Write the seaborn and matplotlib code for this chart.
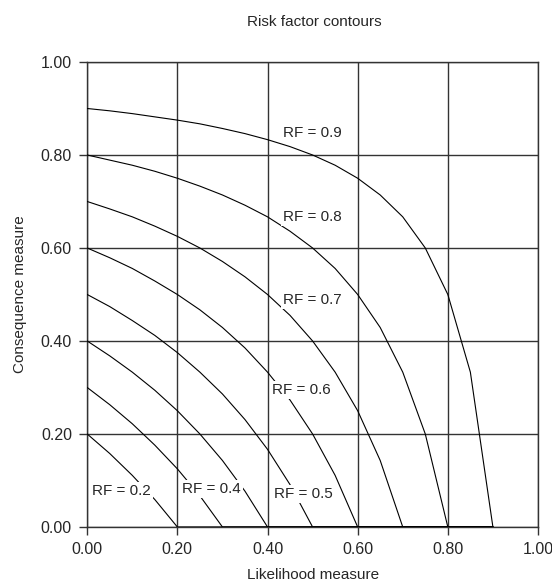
import matplotlib
matplotlib.use("Agg")
import matplotlib.pyplot as plt
import seaborn as sns
import pandas as pd

# Likelihood grid (x) shared by all contours
likelihood = [0.00, 0.05, 0.10, 0.15, 0.20, 0.25, 0.30, 0.35, 0.40, 0.45,
              0.50, 0.55, 0.60, 0.65, 0.70, 0.75, 0.80, 0.85, 0.90]

# Consequence values
rf_02 = [0.20, 0.158, 0.111, 0.059, 0.0, 0, 0, 0, 0, 0, 0, 0, 0, 0, 0, 0, 0, 0, 0]
rf_03 = [0.30, 0.263, 0.222, 0.176, 0.125, 0.067, 0.0, 0, 0, 0, 0, 0, 0, 0, 0, 0, 0, 0, 0]
rf_04 = [0.40, 0.368, 0.333, 0.294, 0.25, 0.20, 0.143, 0.077, 0.0, 0, 0, 0, 0, 0, 0, 0, 0, 0, 0]
rf_05 = [0.50, 0.474, 0.444, 0.412, 0.375, 0.333, 0.286, 0.231, 0.167, 0.091, 0.0,
         0, 0, 0, 0, 0, 0, 0, 0]
rf_06 = [0.60, 0.579, 0.556, 0.529, 0.50, 0.467, 0.429, 0.385, 0.333, 0.273, 0.20,
         0.111, 0.0, 0, 0, 0, 0, 0, 0]
rf_07 = [0.70, 0.684, 0.667, 0.647, 0.625, 0.60, 0.571, 0.538, 0.50, 0.455, 0.40,
         0.333, 0.25, 0.143, 0.0, 0, 0, 0, 0]
rf_08 = [0.80, 0.789, 0.778, 0.765, 0.75, 0.733, 0.714, 0.692, 0.667, 0.636, 0.60,
         0.556, 0.50, 0.429, 0.333, 0.20, 0.0, 0, 0]
rf_09 = [0.90, 0.895, 0.889, 0.882, 0.875, 0.867, 0.857, 0.846, 0.833, 0.818, 0.80,
         0.778, 0.75, 0.714, 0.667, 0.60, 0.50, 0.333, 0.0]

rf_levels = ["0.2", "0.3", "0.4", "0.5", "0.6", "0.7", "0.8", "0.9"]
rf_series = [rf_02, rf_03, rf_04, rf_05, rf_06, rf_07, rf_08, rf_09]

# label positions (likelihood, consequence) for the labelled contours
label_text = ["RF = 0.2", "RF = 0.4", "RF = 0.5", "RF = 0.6", "RF = 0.7", "RF = 0.8", "RF = 0.9"]
label_x = [0.075, 0.275, 0.479, 0.476, 0.50, 0.50, 0.50]
label_y = [0.078, 0.082, 0.071, 0.295, 0.488, 0.667, 0.847]

rows = []
for lvl, vals in zip(rf_levels, rf_series):
    for p, c in zip(likelihood, vals):
        rows.append({"likelihood": p, "consequence": c, "RF": lvl})
df = pd.DataFrame(rows)

sns.set_style("white")
plt.rcParams["font.family"] = ["Liberation Sans", "DejaVu Sans"]

fig = plt.figure(figsize=(5.52, 5.86), dpi=100)
ax = fig.add_axes([0.158, 0.1007, 0.8166, 0.7935])

sns.lineplot(data=df, x="likelihood", y="consequence", hue="RF", units="RF",
             estimator=None, palette=["black"] * len(rf_levels), linewidth=0.8,
             legend=False, ax=ax, zorder=3, sort=False)

for txt, x, y in zip(label_text, label_x, label_y):
    ax.text(x, y, txt, ha="center", va="center", fontsize=11, zorder=5,
            bbox=dict(facecolor="white", edgecolor="none", pad=1.5))

ticks = [0.0, 0.2, 0.4, 0.6, 0.8, 1.0]
ax.set_xlim(0, 1)
ax.set_ylim(0, 1)
ax.set_xticks(ticks)
ax.set_yticks(ticks)
ax.set_xticklabels([f"{t:.2f}" for t in ticks], fontsize=11.5)
ax.set_yticklabels([f"{t:.2f}" for t in ticks], fontsize=11.5)
ax.grid(True, color="#333333", linewidth=1.0)
ax.set_axisbelow(True)
for side in ["left", "bottom", "top", "right"]:
    ax.spines[side].set_visible(True)
    ax.spines[side].set_color("#333333")
    ax.spines[side].set_linewidth(1.0)
ax.tick_params(axis="both", direction="out", length=6, width=1.0, color="#333333",
               left=True, bottom=True, pad=5)

ax.set_xlabel("Likelihood measure", fontsize=11, labelpad=8)
ax.set_ylabel("Consequence measure", fontsize=11, labelpad=10)
fig.text(0.57, 0.962, "Risk factor contours", ha="center", va="center", fontsize=11)

fig.savefig("out.png", dpi=100)
